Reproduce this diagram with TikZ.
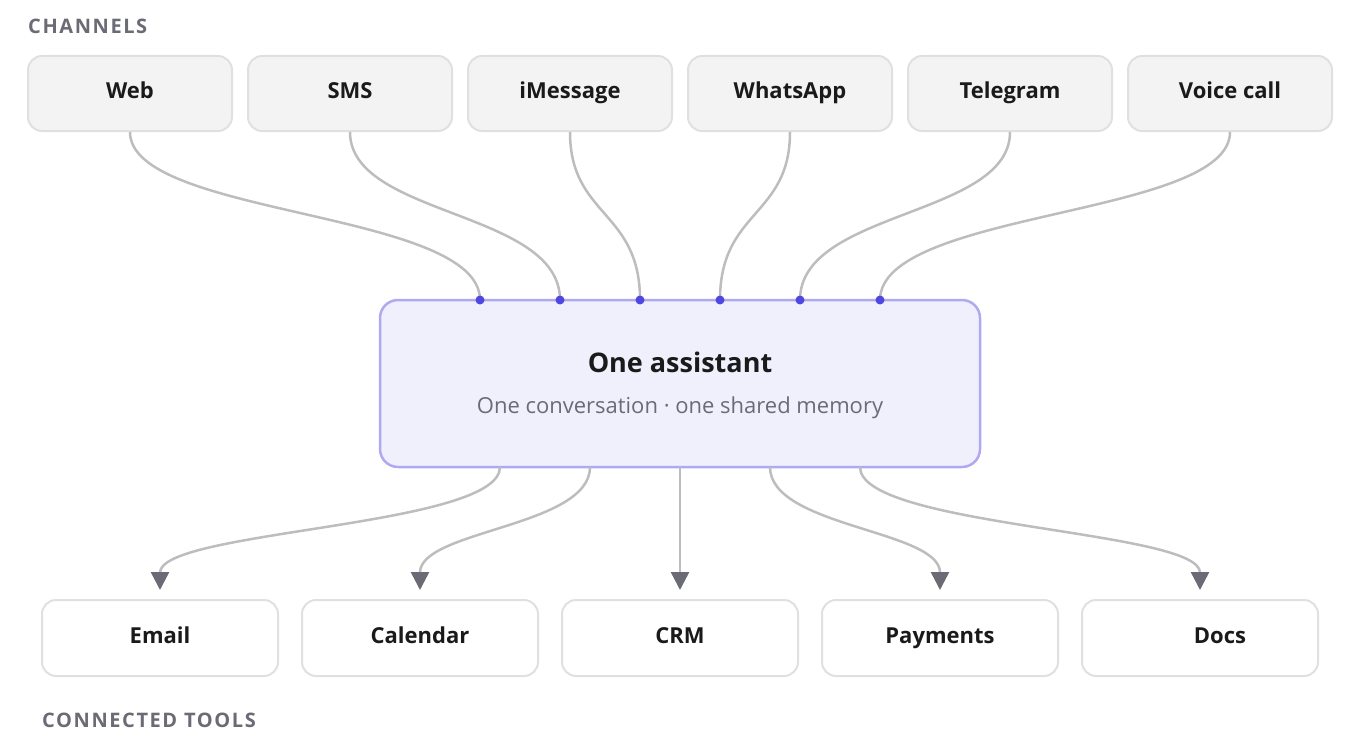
\documentclass[tikz,border=0pt]{standalone}
\usepackage{fontspec}
\setmainfont{Open Sans}
\usetikzlibrary{arrows.meta,calc}
\definecolor{chfill}{HTML}{F3F3F3}
\definecolor{bord}{HTML}{E0E0E0}
\definecolor{cfill}{HTML}{F0F0FC}
\definecolor{cbord}{HTML}{B0A8F0}
\definecolor{dotc}{HTML}{4F46E5}
\definecolor{wire}{HTML}{BDBDBD}
\definecolor{lab}{HTML}{6B6B75}
\definecolor{txt}{HTML}{1A1A1A}
\begin{document}
\begin{tikzpicture}[x=1pt,y=-1pt,
  box/.style={line width=2pt,rounded corners=14pt,font=\fontsize{22}{24}\selectfont\bfseries,text=txt,inner sep=0,text height=16pt,text depth=5pt},
  chan/.style={box,draw=bord,fill=chfill,minimum width=204pt,minimum height=75pt},
  tool/.style={box,draw=bord,fill=white,minimum width=236pt,minimum height=76pt},
  wirel/.style={draw=wire,line width=2.5pt},
  arr/.style={wirel,-{Triangle[length=18pt,width=18pt,color=lab]}},
  dot/.style={circle,fill=dotc,inner sep=0,minimum size=9pt},
  sec/.style={font=\fontsize{20}{22}\selectfont\bfseries,text=lab,anchor=west,inner sep=0}]
\useasboundingbox (0,0) rectangle (1360,752);
\node[sec] (l1) at (28,26) {\addfontfeature{LetterSpace=8}CHANNELS};
\node[sec] (l2) at (42,720) {\addfontfeature{LetterSpace=8}CONNECTED TOOLS};
\foreach \n/\t [count=\i] in {c1/Web,c2/SMS,c3/iMessage,c4/WhatsApp,c5/Telegram,c6/Voice call}
  \node[chan] (\n) at ({130+220*(\i-1)},93.5) {\t};
\node[draw=cbord,line width=2.5pt,fill=cfill,rounded corners=18pt,minimum width=600pt,minimum height=167pt,inner sep=0] (hub) at (680,383.5) {};
\node[font=\fontsize{27}{30}\selectfont\bfseries,text=txt] (ht) at (680,362) {One assistant};
\node[font=\fontsize{22}{24}\selectfont,text=lab] (hs) at (680,408) {One conversation · one shared memory};
\foreach \i in {1,...,6} \coordinate (d\i) at ({480+80*(\i-1)},300);
\foreach \i in {1,...,6}
  \draw[wirel] (c\i.south) .. controls ($(c\i.south)+(0,85)$) and ($(d\i)+(0,-90)$) .. (d\i);
\foreach \i in {1,...,6} \node[dot] at (d\i) {};
\foreach \n/\t [count=\i] in {t1/Email,t2/Calendar,t3/CRM,t4/Payments}
  \node[tool] (\n) at ({160+260*(\i-1)},638) {\t};
\node[tool,text width=236pt,align=center] (t5) at (1200,638) {\hspace*{40pt}Docs};
\foreach \i in {1,...,5} {
  \coordinate (s\i) at ({500+90*(\i-1)},467);
  \coordinate (e\i) at ($(t\i.north)+(0,-9)$);
}
\draw[arr] (s3) -- (e3);
\foreach \i in {1,2,4,5}
  \draw[arr] (s\i) .. controls ($(s\i)+(0,60)$) and ($(e\i)+(0,-60)$) .. (e\i);
\end{tikzpicture}
\end{document}
